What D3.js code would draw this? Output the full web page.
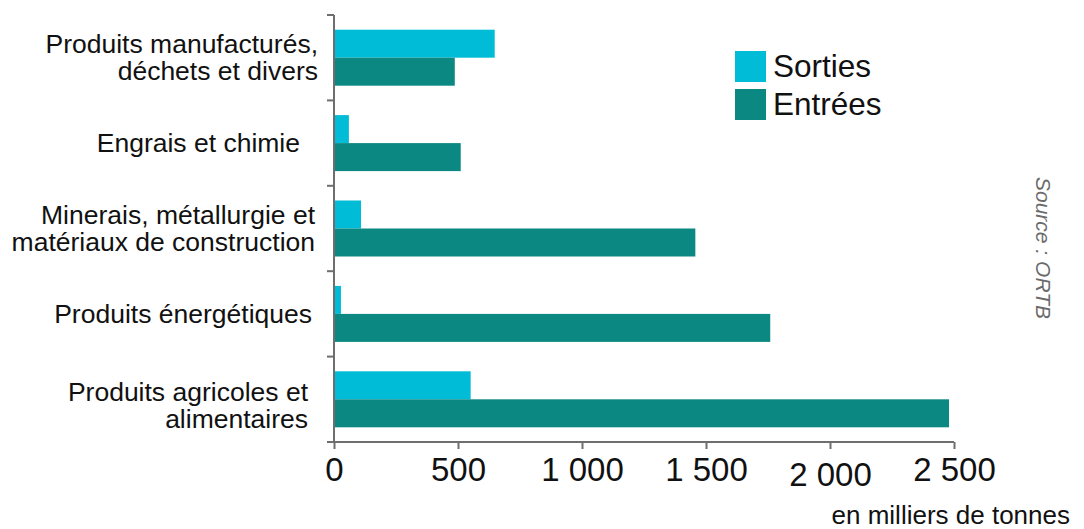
<!DOCTYPE html>
<html>
<head>
<meta charset="utf-8">
<script src="https://cdn.jsdelivr.net/npm/d3@7"></script>
<style>
body { margin: 0; background: #fff; }
text { font-family: "Liberation Sans", Arial, sans-serif; fill: #111; }
</style>
</head>
<body>
<script>
//chart data
var categories = [
    ["Produits manufacturés,", "déchets et divers"],
    ["Engrais et chimie"],
    ["Minerais, métallurgie et", "matériaux de construction"],
    ["Produits énergétiques"],
    ["Produits agricoles et", "alimentaires"]
];
var sorties = [648, 60, 109, 28, 551]; //milliers de tonnes
var entrees = [487, 511, 1457, 1759, 2480];
var seriesNames = ["Sorties", "Entrées"];
var tickValues = [0, 500, 1000, 1500, 2000, 2500];
var tickLabels = ["0", "500", "1 000", "1 500", "2 000", "2 500"];

var colors = ["#00bcd6", "#0c8882"];

var width = 1084,
    height = 529;

var svg = d3.select("body")
    .append("svg")
    .attr("width", width)
    .attr("height", height);

//scales
var x = d3.scaleLinear()
    .domain([0, 2500])
    .range([334, 954]);

var y = d3.scaleBand()
    .domain(d3.range(categories.length))
    .range([15, 442])
    .padding(0);

var barH = 28;

//bars
var groups = svg.selectAll(".group")
    .data(categories)
    .enter()
    .append("g")
    .attr("class", "group");

groups.append("rect")
    .attr("x", x(0))
    .attr("y", function(d, i){ return y(i) + y.bandwidth() / 2 - barH; })
    .attr("width", function(d, i){ return x(sorties[i]) - x(0); })
    .attr("height", barH)
    .attr("fill", colors[0]);

groups.append("rect")
    .attr("x", x(0))
    .attr("y", function(d, i){ return y(i) + y.bandwidth() / 2; })
    .attr("width", function(d, i){ return x(entrees[i]) - x(0); })
    .attr("height", barH)
    .attr("fill", colors[1]);

//left axis (ticks on band edges)
var edges = d3.range(categories.length + 1).map(function(i){
    return i < categories.length ? y(i) : y.range()[1];
});
svg.append("line")
    .attr("x1", x(0)).attr("x2", x(0))
    .attr("y1", edges[0]).attr("y2", edges[edges.length - 1])
    .attr("stroke", "#6e6e6e").attr("stroke-width", 2);
svg.selectAll(".ytick")
    .data(edges)
    .enter()
    .append("line")
    .attr("x1", x(0) - 7).attr("x2", x(0))
    .attr("y1", function(d){ return d; }).attr("y2", function(d){ return d; })
    .attr("stroke", "#6e6e6e").attr("stroke-width", 2);

//category labels (right edges differ a little, as in the source)
var labelRight = [318, 300, 315, 312, 308];
var lineH = 27;
svg.selectAll(".cat")
    .data(categories)
    .enter()
    .append("text")
    .attr("class", "cat")
    .attr("text-anchor", "end")
    .style("font-size", "26.5px")
    .each(function(d, i){
        var cy = y(i) + y.bandwidth() / 2;
        var first = cy + 9 - (d.length - 1) * lineH / 2 + (i == 4 ? 6 : 0);
        d3.select(this).selectAll("tspan")
            .data(d)
            .enter()
            .append("tspan")
            .attr("x", labelRight[i])
            .attr("y", function(t, j){ return first + j * lineH; })
            .text(function(t){ return t; });
    });

//bottom axis
var xAxis = d3.axisBottom(x)
    .tickValues(tickValues)
    .tickFormat(function(d, i){ return tickLabels[i]; })
    .tickSize(7)
    .tickPadding(8);

var gx = svg.append("g")
    .attr("transform", "translate(0," + 442 + ")")
    .call(xAxis);

gx.select(".domain")
    .attr("d", "M" + (x(0) - 7) + ",0H" + x(2500))
    .attr("stroke", "#6e6e6e").attr("stroke-width", 2);
gx.selectAll(".tick line")
    .attr("stroke", "#6e6e6e").attr("stroke-width", 2);
gx.selectAll(".tick text")
    .attr("fill", "#111")
    .style("font-family", "'Liberation Sans Narrow', 'Arial Narrow', sans-serif")
    .style("font-size", "33px")
    .attr("dy", function(d){ return d == 2000 ? "0.88em" : "0.73em"; });

//unit label
svg.append("text")
    .attr("x", 1070)
    .attr("y", 524)
    .attr("text-anchor", "end")
    .style("font-size", "26px")
    .text("en milliers de tonnes");

//legend
var legend = svg.selectAll(".legend")
    .data(seriesNames)
    .enter()
    .append("g")
    .attr("class", "legend")
    .attr("transform", function(d, i){ return "translate(735," + (51 + i * 38) + ")"; });

legend.append("rect")
    .attr("width", 31)
    .attr("height", 31)
    .attr("fill", function(d, i){ return colors[i]; });

legend.append("text")
    .attr("x", 38)
    .attr("y", 26)
    .style("font-size", "31.5px")
    .text(function(d){ return d; });

//source
svg.append("text")
    .attr("transform", "translate(1036,248) rotate(90)")
    .attr("text-anchor", "middle")
    .style("font-size", "21px")
    .style("font-style", "italic")
    .style("fill", "#6a6a6a")
    .text("Source : ORTB");
</script>
</body>
</html>
